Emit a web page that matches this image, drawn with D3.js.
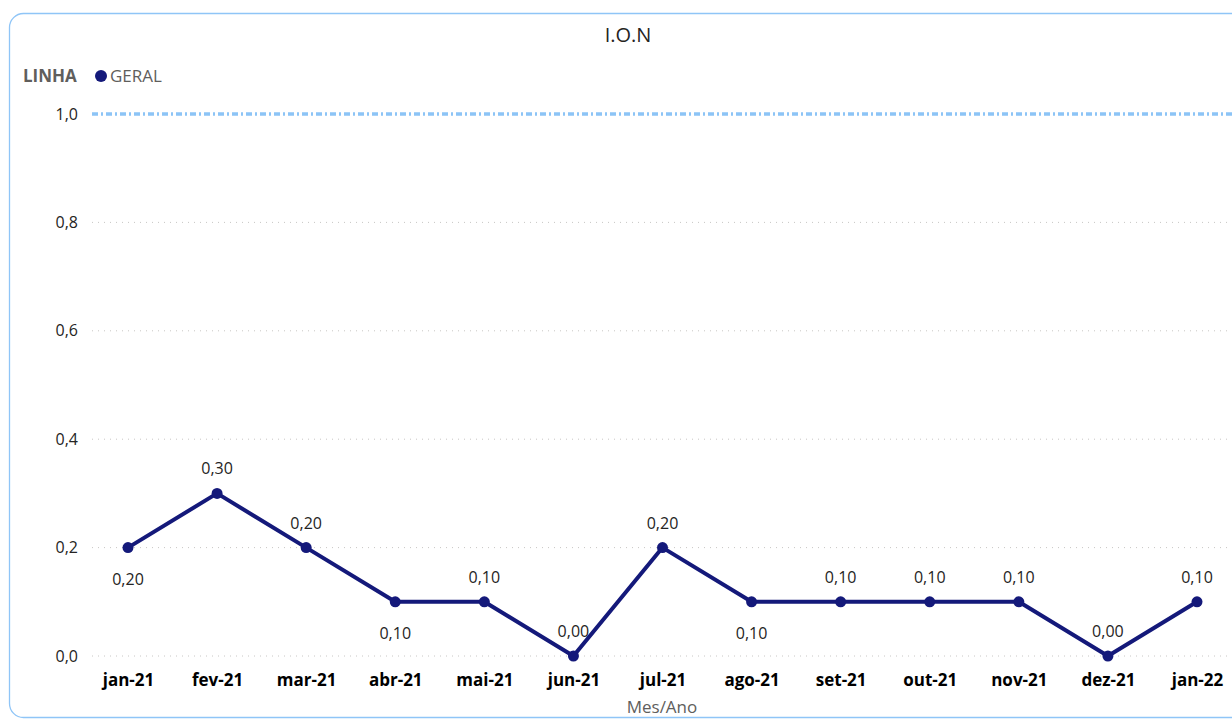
<!DOCTYPE html>
<html>
<head>
<meta charset="utf-8">
<script src="https://cdn.jsdelivr.net/npm/d3@7"></script>
<style>
  body { margin: 0; background: #fff; font-family: "Open Sans", "Noto Sans", sans-serif; }
  svg text { font-family: "Open Sans", "Noto Sans", sans-serif; }
</style>
</head>
<body>
<svg id="chart"></svg>
<script>
// data
var months = ["jan-21", "fev-21", "mar-21", "abr-21", "mai-21", "jun-21", "jul-21",
  "ago-21", "set-21", "out-21", "nov-21", "dez-21", "jan-22"];
var geral = [0.2, 0.3, 0.2, 0.1, 0.1, 0.0, 0.2, 0.1, 0.1, 0.1, 0.1, 0.0, 0.1];
// where each data label sits
var labelSide = ["below", "above", "above", "below", "above", "above", "above",
  "below", "above", "above", "above", "above", "above"];
var yTicks = [0, 0.2, 0.4, 0.6, 0.8, 1.0];
var meta = 1.0;

var screen = { width: 1232, height: 722 };
var margins = { top: 114, bottom: 66, left: 92, right: 0 };
var graph = {
  width: screen.width - margins.left - margins.right,
  height: screen.height - margins.top - margins.bottom
};

var svg = d3.select("#chart").attr("width", screen.width).attr("height", screen.height);

//card border
svg.append("rect")
  .attr("x", 9.5).attr("y", 13.5)
  .attr("width", 1240).attr("height", 704)
  .attr("rx", 14)
  .attr("fill", "none")
  .attr("stroke", "#8fc5f7")
  .attr("stroke-width", 1.3);

//title
svg.append("text")
  .text("I.O.N")
  .attr("x", 628).attr("y", 42)
  .attr("text-anchor", "middle")
  .attr("font-size", 20)
  .attr("fill", "#252423");

//legend
svg.append("text").text("LINHA")
  .attr("x", 23).attr("y", 82)
  .attr("font-size", 17).attr("font-weight", "bold")
  .attr("fill", "#605e5c");
svg.append("circle").attr("cx", 101).attr("cy", 76).attr("r", 6).attr("fill", "#14197a");
svg.append("text").text("GERAL")
  .attr("x", 110).attr("y", 82)
  .attr("font-size", 17)
  .attr("fill", "#605e5c");

//scales
var xScale = d3.scalePoint()
  .domain(months)
  .range([128 - margins.left, 1197 - margins.left]);
var yScale = d3.scaleLinear()
  .domain([0, 1])
  .range([graph.height, 0]);

var g = svg.append("g")
  .attr("transform", "translate(" + margins.left + "," + margins.top + ")");

//gridlines
g.selectAll(".grid")
  .data(yTicks.filter(function (t) { return t < 1; }))
  .enter()
  .append("line")
  .attr("x1", 0).attr("x2", graph.width)
  .attr("y1", function (t) { return yScale(t); })
  .attr("y2", function (t) { return yScale(t); })
  .attr("stroke", "#c8c6c4")
  .attr("stroke-width", 1)
  .attr("stroke-dasharray", "1,5");

//meta line
g.append("line")
  .attr("x1", 0).attr("x2", graph.width)
  .attr("y1", yScale(meta)).attr("y2", yScale(meta))
  .attr("stroke", "#8cc4f6")
  .attr("stroke-width", 3.5)
  .attr("stroke-dasharray", "6,3,2,3");

//y axis
var yAxis = d3.axisLeft(yScale)
  .tickValues(yTicks)
  .tickSize(0)
  .tickPadding(14)
  .tickFormat(function (d) { return d3.format(".1f")(d).replace(".", ","); });
var yG = g.append("g").call(yAxis);
yG.select(".domain").remove();
yG.selectAll("text").attr("font-size", 16).attr("fill", "#252423")
  .attr("font-family", "Open Sans, Noto Sans, sans-serif");

//x axis
var xAxis = d3.axisBottom(xScale).tickSize(0).tickPadding(18);
var xG = g.append("g")
  .attr("transform", "translate(0," + graph.height + ")")
  .call(xAxis);
xG.select(".domain").remove();
xG.selectAll("text").attr("font-size", 17).attr("font-weight", "bold").attr("fill", "#000")
  .attr("font-family", "Open Sans, Noto Sans, sans-serif");

svg.append("text").text("Mes/Ano")
  .attr("x", 662).attr("y", 713)
  .attr("text-anchor", "middle")
  .attr("font-size", 17)
  .attr("fill", "#605e5c");

//line
var line = d3.line()
  .x(function (d, i) { return xScale(months[i]); })
  .y(function (d) { return yScale(d); });
g.append("path")
  .datum(geral)
  .attr("d", line)
  .attr("fill", "none")
  .attr("stroke", "#14197a")
  .attr("stroke-width", 4)
  .attr("stroke-linejoin", "round");

g.selectAll(".pt")
  .data(geral)
  .enter()
  .append("circle")
  .attr("cx", function (d, i) { return xScale(months[i]); })
  .attr("cy", function (d) { return yScale(d); })
  .attr("r", 5.5)
  .attr("fill", "#14197a");

//data labels
g.selectAll(".lbl")
  .data(geral)
  .enter()
  .append("text")
  .text(function (d) { return d3.format(".2f")(d).replace(".", ","); })
  .attr("x", function (d, i) { return xScale(months[i]); })
  .attr("y", function (d, i) {
    return yScale(d) + (labelSide[i] == "above" ? -19 : 37);
  })
  .attr("text-anchor", "middle")
  .attr("font-size", 16)
  .attr("fill", "#252423");
</script>
</body>
</html>
